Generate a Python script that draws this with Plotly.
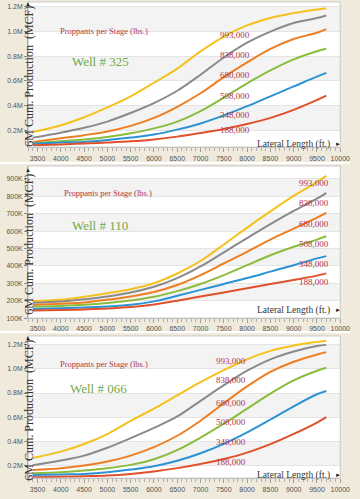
import plotly.graph_objects as go
from plotly.subplots import make_subplots

lateral_ft = [3400, 4000, 4500, 5000, 5500, 6000, 6500, 7000, 7500, 8000, 8500, 9000, 9500, 9700]
proppant_labels = ["993,000", "838,000", "680,000", "508,000", "348,000", "188,000"]
wells = ["Well # 325", "Well # 110", "Well # 066"]

# Well 325 (M MCF)
w325_993 = [0.185, 0.24, 0.305, 0.385, 0.475, 0.585, 0.70, 0.84, 0.96, 1.05, 1.11, 1.15, 1.18, 1.19]
w325_838 = [0.14, 0.18, 0.22, 0.27, 0.34, 0.42, 0.52, 0.65, 0.79, 0.91, 1.00, 1.07, 1.11, 1.13]
w325_680 = [0.105, 0.135, 0.16, 0.19, 0.235, 0.30, 0.39, 0.50, 0.63, 0.75, 0.86, 0.94, 0.99, 1.02]
w325_508 = [0.095, 0.11, 0.125, 0.145, 0.175, 0.215, 0.27, 0.355, 0.465, 0.58, 0.685, 0.775, 0.84, 0.86]
w325_348 = [0.09, 0.10, 0.105, 0.12, 0.14, 0.165, 0.205, 0.255, 0.32, 0.395, 0.475, 0.555, 0.635, 0.665]
w325_188 = [0.078, 0.085, 0.092, 0.10, 0.11, 0.125, 0.148, 0.178, 0.21, 0.25, 0.30, 0.365, 0.445, 0.48]

# Well 110 (K MCF)
w110_993 = [198, 205, 222, 243, 266, 300, 356, 428, 523, 620, 713, 802, 882, 917]
w110_838 = [188, 195, 208, 224, 247, 280, 330, 397, 478, 560, 640, 716, 786, 820]
w110_680 = [175, 182, 190, 205, 224, 250, 290, 347, 414, 481, 551, 614, 677, 704]
w110_508 = [166, 170, 176, 186, 201, 222, 255, 296, 347, 404, 461, 510, 551, 570]
w110_348 = [152, 157, 161, 167, 176, 196, 228, 262, 296, 330, 367, 404, 443, 456]
w110_188 = [143, 146, 150, 155, 163, 178, 200, 224, 247, 271, 296, 319, 344, 357]

# Well 066 (M MCF)
w066_993 = [0.26, 0.313, 0.376, 0.459, 0.569, 0.67, 0.78, 0.89, 0.99, 1.08, 1.15, 1.195, 1.225, 1.235]
w066_838 = [0.20, 0.239, 0.28, 0.345, 0.425, 0.51, 0.605, 0.735, 0.865, 0.985, 1.08, 1.145, 1.19, 1.20]
w066_680 = [0.16, 0.175, 0.198, 0.231, 0.28, 0.35, 0.445, 0.57, 0.715, 0.855, 0.975, 1.06, 1.12, 1.14]
w066_508 = [0.133, 0.142, 0.156, 0.175, 0.203, 0.25, 0.325, 0.43, 0.545, 0.67, 0.795, 0.905, 0.985, 1.01]
w066_348 = [0.118, 0.123, 0.128, 0.142, 0.164, 0.192, 0.237, 0.30, 0.378, 0.473, 0.58, 0.69, 0.79, 0.817]
w066_188 = [0.10, 0.104, 0.109, 0.115, 0.128, 0.148, 0.176, 0.211, 0.252, 0.305, 0.375, 0.46, 0.555, 0.60]

x_ticks = [3500, 4000, 4500, 5000, 5500, 6000, 6500, 7000, 7500, 8000, 8500, 9000, 9500, 10000]
x_ticktext = ["3500", "4000", "4500", "5000", "5500", "6000", "6500", "7000", "7500", "8000", "8500",
              "9000", "9500", "10000"]
m_tickvals = [0.2, 0.4, 0.6, 0.8, 1.0, 1.2]
m_ticktext = ["0.2M", "0.4M", "0.6M", "0.8M", "1.0M", "1.2M"]
k_tickvals = [100, 200, 300, 400, 500, 600, 700, 800, 900]
k_ticktext = ["100K", "200K", "300K", "400K", "500K", "600K", "700K", "800K", "900K"]

colors = ["#f5c11c", "#8a8a8a", "#ef7d22", "#8cbc3c", "#2b93d4", "#e0502b"]

panels = [
    dict(series=[w325_993, w325_838, w325_680, w325_508, w325_348, w325_188],
         yrange=[0.063, 1.24], tv=m_tickvals, tt=m_ticktext, bands=[(0.2, 0.4), (0.6, 0.8), (1.0, 1.2)],
         ypx=(2, 148)),
    dict(series=[w110_993, w110_838, w110_680, w110_508, w110_348, w110_188],
         yrange=[100, 974], tv=k_tickvals, tt=k_ticktext, bands=[(200, 300), (400, 500), (600, 700), (800, 900)],
         ypx=(167, 320)),
    dict(series=[w066_993, w066_838, w066_680, w066_508, w066_348, w066_188],
         yrange=[0.093, 1.274], tv=m_tickvals, tt=m_ticktext, bands=[(0.2, 0.4), (0.6, 0.8), (1.0, 1.2)],
         ypx=(338, 481)),
]

W, H = 360, 499
def px_x(p): return p / W
def px_y(p): return 1 - p / H

fig = make_subplots(rows=3, cols=1)
BG = "#efeadb"
serif = "Liberation Serif, DejaVu Serif, serif"
sans = "Liberation Sans, DejaVu Sans, sans-serif"

shapes = []
annotations = []

for i, pn in enumerate(panels):
    r = i + 1
    for s, c, lab in zip(pn["series"], colors, proppant_labels):
        fig.add_trace(go.Scatter(x=lateral_ft, y=s, mode="lines", line=dict(color=c, width=2, shape="spline"),
                                 name=lab, showlegend=False, hoverinfo="skip"), row=r, col=1)
    xa = "xaxis" if r == 1 else f"xaxis{r}"
    ya = "yaxis" if r == 1 else f"yaxis{r}"
    y0p, y1p = pn["ypx"]
    fig.layout[xa].update(domain=[px_x(29), px_x(350)], range=[3300, 10000], tickvals=x_ticks, ticktext=x_ticktext,
                          showgrid=False, zeroline=False, showline=True, linecolor="#b8b8b8", linewidth=1,
                          ticks="outside", ticklen=4, tickcolor="#a0a0a0", ticklabeloverflow="allow",
                          minor=dict(dtick=100, tick0=3300, ticks="outside", ticklen=3, tickcolor="#b0b0b0"),
                          tickfont=dict(size=7, color="#555", family=sans), fixedrange=True)
    fig.layout[ya].update(domain=[px_y(y1p), px_y(y0p)], range=pn["yrange"], tickvals=pn["tv"], ticktext=pn["tt"],
                          showgrid=True, gridcolor="#e4e4e4", gridwidth=1, zeroline=False,
                          showline=True, linecolor="#9a9a9a", linewidth=1,
                          ticks="outside", ticklen=3, tickcolor="#888",
                          tickfont=dict(size=7, color="#555", family=sans), fixedrange=True)
    xr = "x" if r == 1 else f"x{r}"
    yr = "y" if r == 1 else f"y{r}"
    for b0, b1 in pn["bands"]:
        shapes.append(dict(type="rect", xref=f"{xr} domain", yref=yr, x0=0, x1=1, y0=b0, y1=b1,
                           fillcolor="#f3f3f3", line=dict(width=0), layer="below"))
    shapes.append(dict(type="rect", xref=f"{xr} domain", yref=f"{yr} domain", x0=0, x1=1, y0=0, y1=1,
                       fillcolor="rgba(0,0,0,0)", line=dict(color="#c8c8c8", width=1), layer="above"))

# panel separators
for sy in (164, 334):
    shapes.append(dict(type="rect", xref="paper", yref="paper", x0=0, x1=1,
                       y0=px_y(sy + 1), y1=px_y(sy - 1), fillcolor="white", line=dict(width=0), layer="below"))

text_red = "#b2354a"
well_green = "#72a94a"

# y titles
for cy in (77, 246, 413):
    annotations.append(dict(x=px_x(29), y=px_y(cy), xref="paper", yref="paper", text="6M Cum. Production  (MCF)",
                            textangle=-90, showarrow=False, font=dict(family=serif, size=12, color="#333"),
                            xanchor="center", yanchor="middle"))
# axis arrows & x titles
for ty, top in ((145, 4), (312, 171), (478, 340)):
    annotations.append(dict(x=px_x(341), y=px_y(ty), xref="paper", yref="paper", text="Lateral Length (ft.)",
                            showarrow=False, font=dict(family=serif, size=9.5, color="#333"),
                            xanchor="right", yanchor="middle"))
    annotations.append(dict(x=px_x(348), y=px_y(ty), xref="paper", yref="paper", text="►",
                            showarrow=False, font=dict(family=sans, size=6, color="#222"),
                            xanchor="center", yanchor="middle"))
    annotations.append(dict(x=px_x(29), y=px_y(top), xref="paper", yref="paper", text="▲",
                            showarrow=False, font=dict(family=sans, size=6, color="#222"),
                            xanchor="center", yanchor="middle"))

# proppant header and well labels
for (px, py), (wx, wy), wl in (((107, 31), (103, 62), wells[0]), ((111, 194), (103, 227), wells[1]),
                               ((107, 366), (101, 391), wells[2])):
    annotations.append(dict(x=px_x(px), y=px_y(py), xref="paper", yref="paper", text="Proppants per Stage (lbs.)",
                            showarrow=False, font=dict(family=serif, size=8.5, color=text_red),
                            xanchor="center", yanchor="middle"))
    annotations.append(dict(x=px_x(wx), y=px_y(wy), xref="paper", yref="paper", text=wl,
                            showarrow=False, font=dict(family=serif, size=13, color=well_green),
                            xanchor="center", yanchor="middle"))

# value labels
label_pos = [
    (242, [35, 55, 75, 97, 116, 131]),
    (323, [184, 204, 225, 245, 266, 284]),
    (238, [363, 382, 405, 425, 445, 465]),
]
for lx, ys in label_pos:
    for lab, ly in zip(proppant_labels, ys):
        annotations.append(dict(x=px_x(lx), y=px_y(ly), xref="paper", yref="paper", text=lab,
                                showarrow=False, font=dict(family=serif, size=9, color=text_red),
                                xanchor="center", yanchor="middle"))

fig.update_layout(width=W, height=H, margin=dict(l=0, r=0, t=0, b=0), paper_bgcolor=BG, plot_bgcolor="white",
                  shapes=shapes, annotations=annotations, showlegend=False)

fig.write_html("out.html", config={"displayModeBar": False},
               post_script="document.body.style.margin='0';document.body.style.padding='0';document.body.style.overflow='hidden';")
